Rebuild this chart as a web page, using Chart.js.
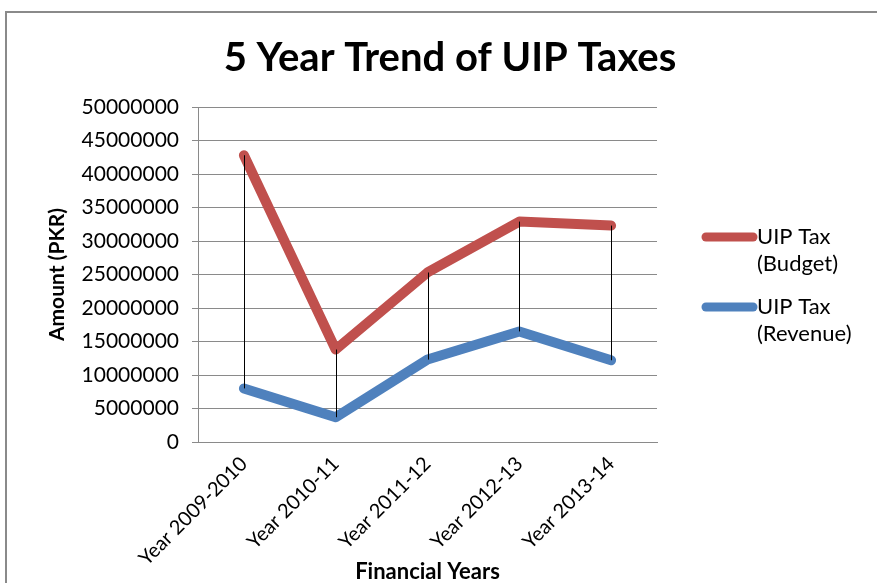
<!DOCTYPE html>
<html>
<head>
<meta charset="utf-8">
<script src="https://cdn.jsdelivr.net/npm/chart.js@4"></script>
<style>
  html, body { margin: 0; padding: 0; background: #fff; overflow: hidden; }
  #frame { position: absolute; left: 5px; top: 11px; width: 900px; height: 600px; border: 2px solid #8a8a8a; }
  #wrap { position: absolute; left: 0; top: 0; width: 877px; height: 583px; }
</style>
</head>
<body>
<div id="frame"></div>
<div id="wrap"><canvas id="taxChart" width="877" height="583"></canvas></div>
<script>
const years = ['Year 2009-2010', 'Year 2010-11', 'Year 2011-12', 'Year 2012-13', 'Year 2013-14'];
const budget = [42800000, 13800000, 25300000, 32900000, 32300000];
const revenue = [8000000, 3700000, 12300000, 16500000, 12200000];
const seriesNames = [['UIP Tax', '(Budget)'], ['UIP Tax', '(Revenue)']];
const chartTitle = '5 Year Trend of UIP Taxes';

const FONT = 'Lato, "Liberation Sans", sans-serif';

// thin black high-low lines between the two series at each year
const dropLines = {
  id: 'dropLines',
  afterDatasetsDraw(chart) {
    const a = chart.getDatasetMeta(0).data;
    const b = chart.getDatasetMeta(1).data;
    const ctx = chart.ctx;
    ctx.save();
    ctx.strokeStyle = '#000';
    ctx.lineWidth = 1;
    for (let i = 0; i < a.length; i++) {
      const x = Math.round(a[i].x) + 0.5;
      ctx.beginPath();
      ctx.moveTo(x, a[i].y);
      ctx.lineTo(x, b[i].y);
      ctx.stroke();
    }
    ctx.restore();
  }
};

// title centred on the whole frame, plus the two-line legend on the right
const decorations = {
  id: 'decorations',
  afterDraw(chart) {
    const ctx = chart.ctx;
    ctx.save();
    ctx.fillStyle = '#000';
    ctx.textAlign = 'center';
    ctx.textBaseline = 'middle';
    ctx.font = 'bold 40px ' + FONT;
    ctx.fillText(chartTitle, 450, 58);

    const x0 = chart.chartArea.right + 45;
    ctx.textAlign = 'left';
    ctx.font = '22px ' + FONT;
    chart.data.datasets.forEach((ds, i) => {
      const y = 237 + i * 70;
      ctx.strokeStyle = ds.borderColor;
      ctx.lineWidth = 9;
      ctx.lineCap = 'round';
      ctx.beginPath();
      ctx.moveTo(x0 + 4, y);
      ctx.lineTo(x0 + 51, y);
      ctx.stroke();
      seriesNames[i].forEach((t, j) => ctx.fillText(t, x0 + 55, y + j * 27));
    });
    ctx.restore();
  }
};

new Chart(document.getElementById('taxChart'), {
  type: 'line',
  data: {
    labels: years,
    datasets: [
      { label: 'UIP Tax (Budget)', data: budget, borderColor: '#C0504D', borderWidth: 10,
        borderCapStyle: 'round', borderJoinStyle: 'round', pointRadius: 0, tension: 0 },
      { label: 'UIP Tax (Revenue)', data: revenue, borderColor: '#4F81BD', borderWidth: 10,
        borderCapStyle: 'round', borderJoinStyle: 'round', pointRadius: 0, tension: 0 }
    ]
  },
  options: {
    responsive: false,
    animation: false,
    layout: { padding: { left: 45, right: 220, top: 107, bottom: 0 } },
    plugins: {
      legend: { display: false },
      tooltip: { enabled: false },
      title: { display: false }
    },
    scales: {
      x: {
        offset: true,
        grid: { display: false },
        border: { display: true, color: '#8a8a8a', width: 1 },
        ticks: { color: '#000', font: { family: FONT, size: 20 }, minRotation: 45, maxRotation: 45, padding: 2 },
        title: { display: true, text: 'Financial Years', color: '#000',
                 font: { family: FONT, size: 22, weight: 'bold' }, padding: { top: 0, bottom: -2 } },
        afterFit(scale) { scale.height = 141; }
      },
      y: {
        min: 0,
        max: 50000000,
        ticks: { stepSize: 5000000, color: '#000', font: { family: FONT, size: 21 }, padding: 13,
                 callback: v => String(v) },
        grid: { color: '#8a8a8a', lineWidth: 1, tickLength: 6, drawTicks: true },
        border: { display: true, color: '#8a8a8a', width: 1 },
        title: { display: true, text: 'Amount (PKR)', color: '#000',
                 font: { family: FONT, size: 21, weight: 'bold' }, padding: { top: 0, bottom: 0 } },
        afterFit(scale) { scale.width = 153; }
      }
    }
  },
  plugins: [dropLines, decorations]
});
</script>
</body>
</html>
